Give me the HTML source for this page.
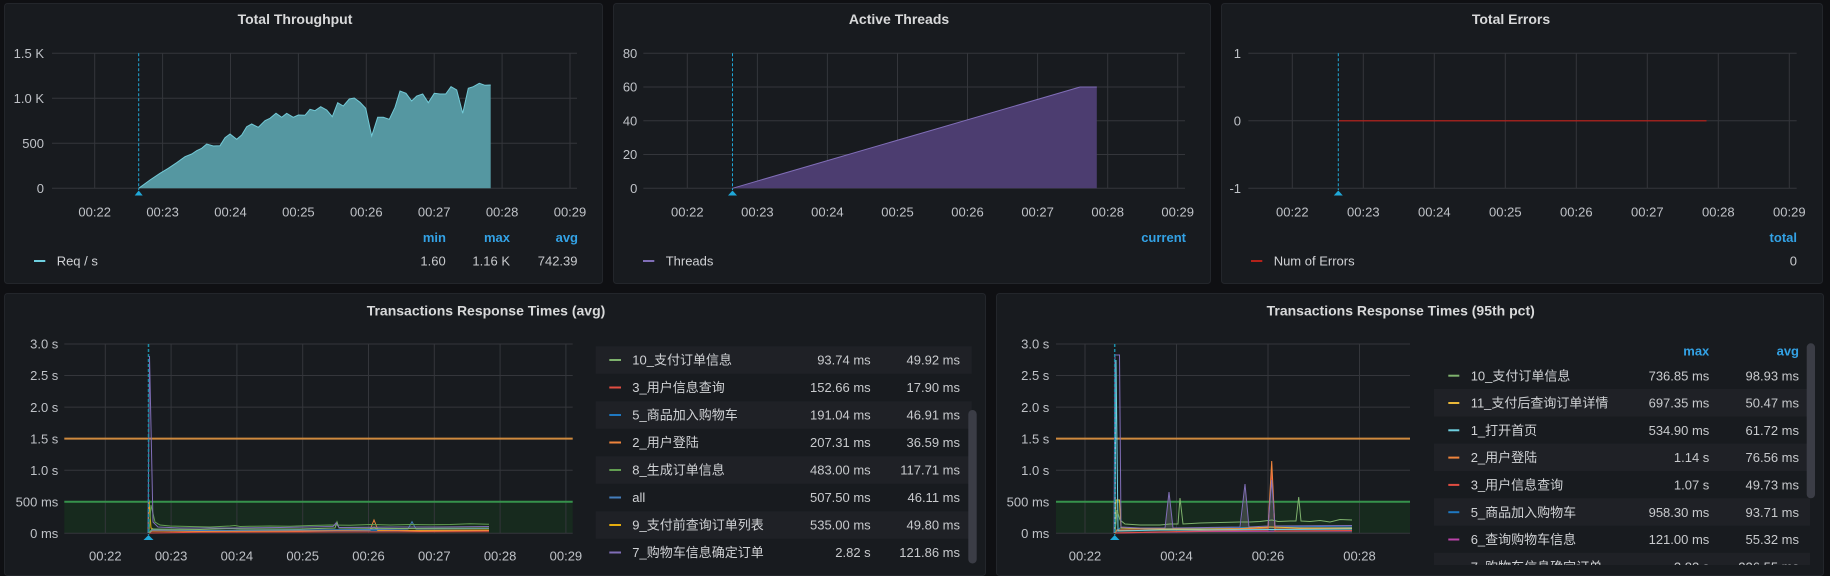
<!DOCTYPE html>
<html><head><meta charset="utf-8"><style>
html,body{margin:0;padding:0;background:#0f1013;}
svg{display:block;font-family:"Liberation Sans","Noto Sans CJK SC",sans-serif;}
.t{font-size:14px;font-weight:bold;fill:#d8d9da;text-anchor:middle}
.ax{font-size:13px;fill:#bfc2c7}
.axm{font-size:13px;fill:#bfc2c7;text-anchor:middle}
.axe{font-size:13px;fill:#bfc2c7;text-anchor:end}
.hd{font-size:13px;font-weight:bold;fill:#33a2e5;text-anchor:end}
.lg{font-size:13px;fill:#d0d2d5}
.lv{font-size:13px;fill:#c8cacd;text-anchor:end}
.g{stroke:#34363b;stroke-width:1;fill:none}
</style></head><body>
<svg width="1830" height="576" viewBox="0 0 1830 576" xmlns="http://www.w3.org/2000/svg">
<defs>
<clipPath id="cl"><rect x="1420" y="340" width="400" height="225"/></clipPath>
</defs>
<rect x="0" y="0" width="1830" height="576" fill="#0f1013"/>

<!-- ===== Panel 1: Total Throughput ===== -->
<rect x="4.5" y="3.5" width="598" height="280" rx="3" fill="#181b1f" stroke="#23262b"/>
<text class="t" x="295" y="24">Total Throughput</text>
<path class="g" d="M52 53.3H577M52 98.3H577M52 143.3H577M52 188.3H577M94.7 53.3V188.3M162.6 53.3V188.3M230.5 53.3V188.3M298.4 53.3V188.3M366.3 53.3V188.3M434.2 53.3V188.3M502.1 53.3V188.3M570 53.3V188.3"/>
<path d="M138.7 188.3L150 180L160 173.3L168.3 168.3L176.7 162.7L185 156.7L191.7 154L196.7 150.7L201.7 148.3L206.7 144L213.3 146L220 145.7L225 137.7L230 134L236.7 139.3L241.7 135L246.7 126.7L251.7 124L258.3 127.3L265 120.7L270 118.3L276 113.3L281.7 117.3L286.7 113.3L293.3 117.3L298.3 115L305 115.3L310 109.3L315 110.7L320.7 106.7L326.7 110L332.3 116.7L337.7 102.7L343.3 106L349.3 99L354.3 98L360 102.3L365.7 108.3L371.7 136L377.7 117.3L383.3 117.3L389.3 119.3L395 107.3L400 91L406 93.3L411.7 101L416.7 96L422.7 94L428.3 102.7L434.3 93.3L440 94L445.7 94L451 86.7L456.7 90L462.7 113.3L468.3 88.3L473.3 86.7L479.3 83.3L485 85.3L490.7 85L490.7 188.3Z" fill="#5597a1"/>
<path d="M138.7 188.3L150 180L160 173.3L168.3 168.3L176.7 162.7L185 156.7L191.7 154L196.7 150.7L201.7 148.3L206.7 144L213.3 146L220 145.7L225 137.7L230 134L236.7 139.3L241.7 135L246.7 126.7L251.7 124L258.3 127.3L265 120.7L270 118.3L276 113.3L281.7 117.3L286.7 113.3L293.3 117.3L298.3 115L305 115.3L310 109.3L315 110.7L320.7 106.7L326.7 110L332.3 116.7L337.7 102.7L343.3 106L349.3 99L354.3 98L360 102.3L365.7 108.3L371.7 136L377.7 117.3L383.3 117.3L389.3 119.3L395 107.3L400 91L406 93.3L411.7 101L416.7 96L422.7 94L428.3 102.7L434.3 93.3L440 94L445.7 94L451 86.7L456.7 90L462.7 113.3L468.3 88.3L473.3 86.7L479.3 83.3L485 85.3L490.7 85" fill="none" stroke="#72c9d6" stroke-width="1"/>
<line x1="138.7" y1="53.3" x2="138.7" y2="190" stroke="#1fa8d8" stroke-dasharray="3,2"/>
<polygon points="134.7,195.5 142.7,195.5 138.7,190.5" fill="#1fa8d8"/>
<text class="axe" x="44" y="58">1.5 K</text>
<text class="axe" x="44" y="103">1.0 K</text>
<text class="axe" x="44" y="148">500</text>
<text class="axe" x="44" y="193">0</text>
<g class="axm">
<text x="94.7" y="216.4">00:22</text><text x="162.6" y="216.4">00:23</text><text x="230.5" y="216.4">00:24</text><text x="298.4" y="216.4">00:25</text><text x="366.3" y="216.4">00:26</text><text x="434.2" y="216.4">00:27</text><text x="502.1" y="216.4">00:28</text><text x="570" y="216.4">00:29</text>
</g>
<text class="hd" x="446" y="242">min</text>
<text class="hd" x="510" y="242">max</text>
<text class="hd" x="578" y="242">avg</text>
<line x1="34" y1="261" x2="45.3" y2="261" stroke="#6ed0e0" stroke-width="2"/>
<text class="lg" x="56.7" y="265.7">Req / s</text>
<text class="lv" x="445.7" y="265.7">1.60</text>
<text class="lv" x="510" y="265.7">1.16 K</text>
<text class="lv" x="577.5" y="265.7">742.39</text>

<!-- ===== Panel 2: Active Threads ===== -->
<rect x="613.5" y="3.5" width="597" height="280" rx="3" fill="#181b1f" stroke="#23262b"/>
<text class="t" x="899" y="24">Active Threads</text>
<path class="g" d="M643.3 53.3H1185M643.3 87.05H1185M643.3 120.8H1185M643.3 154.55H1185M643.3 188.3H1185M687.3 53.3V188.3M757.4 53.3V188.3M827.4 53.3V188.3M897.5 53.3V188.3M967.5 53.3V188.3M1037.6 53.3V188.3M1107.7 53.3V188.3M1177.7 53.3V188.3"/>
<path d="M732.5 188.3L1080 87.05L1096.8 87.05L1096.8 188.3Z" fill="#4c3d70"/>
<path d="M732.5 188.3L1080 87.05L1096.8 87.05" fill="none" stroke="#806eb7" stroke-width="1"/>
<line x1="732.5" y1="53.3" x2="732.5" y2="190" stroke="#1fa8d8" stroke-dasharray="3,2"/>
<polygon points="728,195.5 737,195.5 732.5,190.5" fill="#1fa8d8"/>
<text class="axe" x="637.3" y="58">80</text>
<text class="axe" x="637.3" y="91.7">60</text>
<text class="axe" x="637.3" y="125.5">40</text>
<text class="axe" x="637.3" y="159.2">20</text>
<text class="axe" x="637.3" y="193">0</text>
<g class="axm">
<text x="687.3" y="216.4">00:22</text><text x="757.4" y="216.4">00:23</text><text x="827.4" y="216.4">00:24</text><text x="897.5" y="216.4">00:25</text><text x="967.5" y="216.4">00:26</text><text x="1037.6" y="216.4">00:27</text><text x="1107.7" y="216.4">00:28</text><text x="1177.7" y="216.4">00:29</text>
</g>
<text class="hd" x="1186" y="242">current</text>
<line x1="643" y1="261" x2="654.3" y2="261" stroke="#806eb7" stroke-width="2"/>
<text class="lg" x="665.7" y="265.7">Threads</text>

<!-- ===== Panel 3: Total Errors ===== -->
<rect x="1221.5" y="3.5" width="601" height="280" rx="3" fill="#181b1f" stroke="#23262b"/>
<text class="t" x="1511" y="24">Total Errors</text>
<path class="g" d="M1248.3 53.3H1796.7M1248.3 120.8H1796.7M1248.3 188.3H1796.7M1292.3 53.3V188.3M1363.3 53.3V188.3M1434.3 53.3V188.3M1505.3 53.3V188.3M1576.3 53.3V188.3M1647.3 53.3V188.3M1718.3 53.3V188.3M1789.3 53.3V188.3"/>
<line x1="1338.3" y1="120.8" x2="1706.5" y2="120.8" stroke="#c0211a" stroke-width="1.2"/>
<line x1="1338.3" y1="53.3" x2="1338.3" y2="190" stroke="#1fa8d8" stroke-dasharray="3,2"/>
<polygon points="1333.8,195.5 1342.8,195.5 1338.3,190.5" fill="#1fa8d8"/>
<text class="axe" x="1241" y="58">1</text>
<text class="axe" x="1241" y="125.5">0</text>
<text class="axe" x="1241" y="193">-1</text>
<g class="axm">
<text x="1292.3" y="216.4">00:22</text><text x="1363.3" y="216.4">00:23</text><text x="1434.3" y="216.4">00:24</text><text x="1505.3" y="216.4">00:25</text><text x="1576.3" y="216.4">00:26</text><text x="1647.3" y="216.4">00:27</text><text x="1718.3" y="216.4">00:28</text><text x="1789.3" y="216.4">00:29</text>
</g>
<text class="hd" x="1797" y="242">total</text>
<line x1="1251" y1="261" x2="1262.3" y2="261" stroke="#b3221a" stroke-width="2"/>
<text class="lg" x="1273.7" y="265.7">Num of Errors</text>
<text class="lv" x="1797" y="265.7">0</text>

<!-- ===== Panel 4: Transactions Response Times (avg) ===== -->
<rect x="4.5" y="293.5" width="981" height="282" rx="3" fill="#181b1f" stroke="#23262b"/>
<text class="t" x="486" y="315.4">Transactions Response Times (avg)</text>
<rect x="64.3" y="501.75" width="508.4" height="31.55" fill="#172a1e"/>
<path class="g" d="M64.3 344H572.7M64.3 375.55H572.7M64.3 407.1H572.7M64.3 470.2H572.7M64.3 533.3H572.7M105.3 344V533.3M171.1 344V533.3M236.9 344V533.3M302.7 344V533.3M368.5 344V533.3M434.3 344V533.3M500.1 344V533.3M565.9 344V533.3"/>
<line x1="64.3" y1="438.65" x2="572.7" y2="438.65" stroke="#cf8a3e" stroke-width="2"/>
<line x1="64.3" y1="501.75" x2="572.7" y2="501.75" stroke="#36924c" stroke-width="2"/>
<g fill="none" stroke-width="1">
<polyline stroke="#1f78c1" points="149,533 152,531 250,531 350,530.8 489,530.5"/>
<polyline stroke="#e24d42" points="149,533 200,532.3 300,532 489,531.8"/>
<polyline stroke="#e5ac0e" points="148,533 149,500 151,528 155,530 200,531 300,530.5 370,530 374,527 378,530.5 489,530"/>
<polyline stroke="#ef843c" points="149,533 152,531 200,531.5 300,531 370,530 374,520 378,530 420,531 489,530.5"/>
<polyline stroke="#447ebc" points="149,533 152,530 200,530.5 300,530 370,529.5 408,529 412,521.7 416,529 489,528.5"/>
<polyline stroke="#7eb26d" points="149,533 152,529 200,529.5 230,528.5 240,529 300,529 335,528 337,522 339,528 400,528.5 489,528"/>
<polyline stroke="#629e51" points="149,533 151,505 155,522 160,525 170,526 190,526.5 210,527 230,526 235,525.5 240,526.5 250,526.3 270,526 290,526.2 310,525.5 330,525 350,525.3 370,524.5 390,525 410,524.5 430,524.7 450,524.5 470,523.8 489,524.3"/>
<polyline stroke="#806eb7" points="148,533 149.5,356 153,522 158,527 180,528 230,528 280,527.5 333,526.5 336,523 339,527.5 400,527 440,527 489,526.5"/>
</g>
<line x1="148.5" y1="344" x2="148.5" y2="535" stroke="#1c8ea8" stroke-width="1.5" stroke-dasharray="3,2"/>
<polygon points="143.5,540 153.5,540 148.5,535" fill="#1fa8d8"/>
<g class="axe">
<text x="58.3" y="348.7">3.0 s</text><text x="58.3" y="380.2">2.5 s</text><text x="58.3" y="411.8">2.0 s</text><text x="58.3" y="443.3">1.5 s</text><text x="58.3" y="474.9">1.0 s</text><text x="58.3" y="506.4">500 ms</text><text x="58.3" y="538">0 ms</text>
</g>
<g class="axm">
<text x="105.3" y="560.7">00:22</text><text x="171.1" y="560.7">00:23</text><text x="236.9" y="560.7">00:24</text><text x="302.7" y="560.7">00:25</text><text x="368.5" y="560.7">00:26</text><text x="434.3" y="560.7">00:27</text><text x="500.1" y="560.7">00:28</text><text x="565.9" y="560.7">00:29</text>
</g>
<!-- legend -->
<g fill="#1f2126">
<rect x="595.7" y="346.3" width="376" height="27.5"/>
<rect x="595.7" y="401.3" width="376" height="27.5"/>
<rect x="595.7" y="456.3" width="376" height="27.5"/>
<rect x="595.7" y="511.3" width="376" height="27.5"/>
</g>
<g stroke-width="2">
<line x1="609.3" y1="360" x2="621" y2="360" stroke="#7eb26d"/>
<line x1="609.3" y1="387.5" x2="621" y2="387.5" stroke="#e24d42"/>
<line x1="609.3" y1="415" x2="621" y2="415" stroke="#1f78c1"/>
<line x1="609.3" y1="442.5" x2="621" y2="442.5" stroke="#ef843c"/>
<line x1="609.3" y1="470" x2="621" y2="470" stroke="#629e51"/>
<line x1="609.3" y1="497.5" x2="621" y2="497.5" stroke="#447ebc"/>
<line x1="609.3" y1="525" x2="621" y2="525" stroke="#e5ac0e"/>
<line x1="609.3" y1="552.5" x2="621" y2="552.5" stroke="#806eb7"/>
</g>
<g class="lg">
<text x="632.3" y="364.6">10_支付订单信息</text>
<text x="632.3" y="392.1">3_用户信息查询</text>
<text x="632.3" y="419.6">5_商品加入购物车</text>
<text x="632.3" y="447.1">2_用户登陆</text>
<text x="632.3" y="474.6">8_生成订单信息</text>
<text x="632.3" y="502.1">all</text>
<text x="632.3" y="529.6">9_支付前查询订单列表</text>
<text x="632.3" y="557.1">7_购物车信息确定订单</text>
</g>
<g class="lv">
<text x="870.7" y="364.6">93.74 ms</text><text x="960" y="364.6">49.92 ms</text>
<text x="870.7" y="392.1">152.66 ms</text><text x="960" y="392.1">17.90 ms</text>
<text x="870.7" y="419.6">191.04 ms</text><text x="960" y="419.6">46.91 ms</text>
<text x="870.7" y="447.1">207.31 ms</text><text x="960" y="447.1">36.59 ms</text>
<text x="870.7" y="474.6">483.00 ms</text><text x="960" y="474.6">117.71 ms</text>
<text x="870.7" y="502.1">507.50 ms</text><text x="960" y="502.1">46.11 ms</text>
<text x="870.7" y="529.6">535.00 ms</text><text x="960" y="529.6">49.80 ms</text>
<text x="870.7" y="557.1">2.82 s</text><text x="960" y="557.1">121.86 ms</text>
</g>
<rect x="968.3" y="410" width="8.4" height="153.5" rx="4.2" fill="#3b3d46"/>

<!-- ===== Panel 5: Transactions Response Times (95th pct) ===== -->
<rect x="996.5" y="293.5" width="827" height="282" rx="3" fill="#181b1f" stroke="#23262b"/>
<text class="t" x="1400.7" y="315.4">Transactions Response Times (95th pct)</text>
<rect x="1056" y="501.75" width="354" height="31.55" fill="#172a1e"/>
<path class="g" d="M1056 344H1410M1056 375.55H1410M1056 407.1H1410M1056 470.2H1410M1056 533.3H1410M1085 344V533.3M1176.5 344V533.3M1268 344V533.3M1359.5 344V533.3"/>
<line x1="1056" y1="438.65" x2="1410" y2="438.65" stroke="#cf8a3e" stroke-width="2"/>
<line x1="1056" y1="501.75" x2="1410" y2="501.75" stroke="#36924c" stroke-width="2"/>
<path d="M1115 533.3L1115 529L1165 529L1169 492L1173 529L1241 528L1245 484L1249 528L1268 527L1271.7 470L1275 527L1352 526L1352 533.3Z" fill="#5a5b5e" fill-opacity="0.55"/>
<g fill="none" stroke-width="1">
<polyline stroke="#ba43a9" points="1115,533 1200,531.5 1352,531"/>
<polyline stroke="#1f78c1" points="1115,533 1120,528 1150,529 1200,528 1230,527.5 1260,527.5 1290,527 1320,526.5 1352,527"/>
<polyline stroke="#eab839" points="1115,533 1116,500 1119.5,500 1121,528 1160,529 1200,529 1240,528.5 1270,527 1300,528 1352,528"/>
<polyline stroke="#e24d42" points="1115,533 1200,531 1268,530 1271.7,470 1275,531 1352,530.5"/>
<polyline stroke="#ef843c" points="1115,533 1117,530 1200,530 1268,528 1271.7,461 1275,529 1352,529"/>
<polyline stroke="#6ed0e0" points="1115,533 1116,360 1118,531 1160,530 1200,530 1280,529.5 1352,529"/>
<polyline stroke="#7eb26d" points="1115,533 1117,510 1120,520 1125,524 1140,525 1160,525 1170,524 1178,524 1180,498 1183,524 1200,523 1220,522.5 1240,522 1250,522 1260,521.5 1272,520 1278,521.5 1290,521 1296,521 1298.7,497 1301,521 1310,521.5 1320,520.5 1330,522 1340,519.5 1352,520"/>
<polyline stroke="#806eb7" points="1114,533 1115,355 1119.5,355 1121,527 1140,528 1165,528 1169,492 1173,528 1240,527 1245,484 1249,527 1268,526 1271.7,480 1275,526 1352,525.5"/>
</g>
<line x1="1114.7" y1="344" x2="1114.7" y2="535" stroke="#1c8ea8" stroke-width="1.5" stroke-dasharray="3,2"/>
<polygon points="1110,540 1119.5,540 1114.7,535" fill="#1fa8d8"/>
<g class="axe">
<text x="1049.3" y="348.7">3.0 s</text><text x="1049.3" y="380.2">2.5 s</text><text x="1049.3" y="411.8">2.0 s</text><text x="1049.3" y="443.3">1.5 s</text><text x="1049.3" y="474.9">1.0 s</text><text x="1049.3" y="506.4">500 ms</text><text x="1049.3" y="538">0 ms</text>
</g>
<g class="axm">
<text x="1085" y="560.7">00:22</text><text x="1176.5" y="560.7">00:24</text><text x="1268" y="560.7">00:26</text><text x="1359.5" y="560.7">00:28</text>
</g>
<text class="hd" x="1709.3" y="355.7">max</text>
<text class="hd" x="1799" y="355.7">avg</text>
<g clip-path="url(#cl)">
<g fill="#1f2126">
<rect x="1434" y="389" width="376" height="27.5"/>
<rect x="1434" y="443.6" width="376" height="27.5"/>
<rect x="1434" y="498.2" width="376" height="27.5"/>
<rect x="1434" y="552.8" width="376" height="27.5"/>
</g>
<g stroke-width="2">
<line x1="1448.3" y1="375.7" x2="1459.3" y2="375.7" stroke="#7eb26d"/>
<line x1="1448.3" y1="403" x2="1459.3" y2="403" stroke="#eab839"/>
<line x1="1448.3" y1="430.3" x2="1459.3" y2="430.3" stroke="#6ed0e0"/>
<line x1="1448.3" y1="457.6" x2="1459.3" y2="457.6" stroke="#ef843c"/>
<line x1="1448.3" y1="484.9" x2="1459.3" y2="484.9" stroke="#e24d42"/>
<line x1="1448.3" y1="512.2" x2="1459.3" y2="512.2" stroke="#1f78c1"/>
<line x1="1448.3" y1="539.5" x2="1459.3" y2="539.5" stroke="#ba43a9"/>
<line x1="1448.3" y1="566.8" x2="1459.3" y2="566.8" stroke="#806eb7"/>
</g>
<g class="lg">
<text x="1470.7" y="380.3">10_支付订单信息</text>
<text x="1470.7" y="407.6">11_支付后查询订单详情</text>
<text x="1470.7" y="434.9">1_打开首页</text>
<text x="1470.7" y="462.2">2_用户登陆</text>
<text x="1470.7" y="489.5">3_用户信息查询</text>
<text x="1470.7" y="516.8">5_商品加入购物车</text>
<text x="1470.7" y="544.1">6_查询购物车信息</text>
<text x="1470.7" y="571.4">7_购物车信息确定订单</text>
</g>
<g class="lv">
<text x="1709.3" y="380.3">736.85 ms</text><text x="1799" y="380.3">98.93 ms</text>
<text x="1709.3" y="407.6">697.35 ms</text><text x="1799" y="407.6">50.47 ms</text>
<text x="1709.3" y="434.9">534.90 ms</text><text x="1799" y="434.9">61.72 ms</text>
<text x="1709.3" y="462.2">1.14 s</text><text x="1799" y="462.2">76.56 ms</text>
<text x="1709.3" y="489.5">1.07 s</text><text x="1799" y="489.5">49.73 ms</text>
<text x="1709.3" y="516.8">958.30 ms</text><text x="1799" y="516.8">93.71 ms</text>
<text x="1709.3" y="544.1">121.00 ms</text><text x="1799" y="544.1">55.32 ms</text>
<text x="1709.3" y="571.4">2.82 s</text><text x="1799" y="571.4">226.55 ms</text>
</g>
</g>
<rect x="1806.7" y="343.3" width="8.3" height="155" rx="4.1" fill="#3b3d46"/>
</svg>
</body></html>
